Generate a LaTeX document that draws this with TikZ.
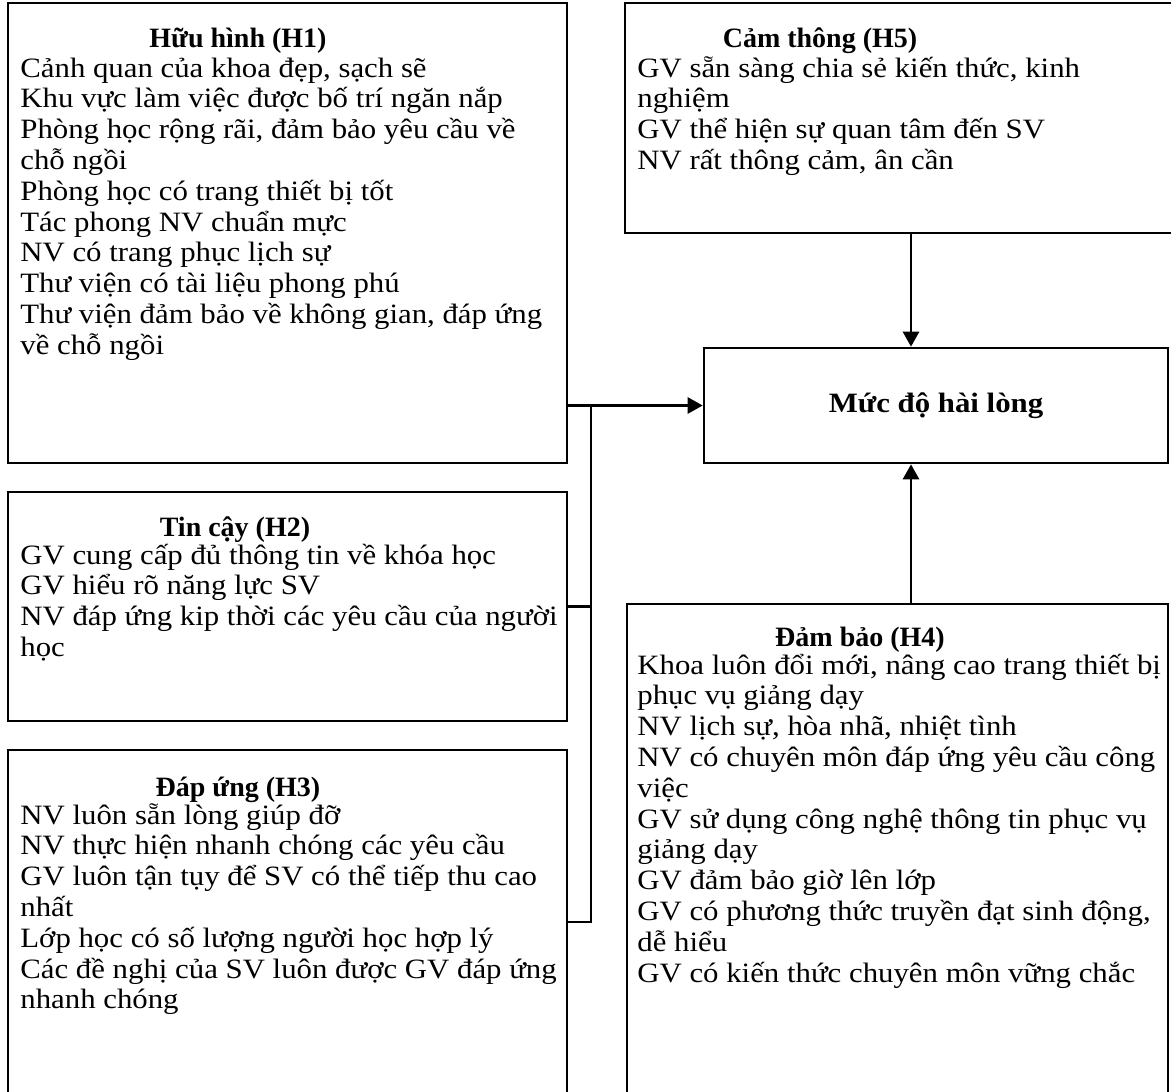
\documentclass[tikz,border=0pt]{standalone}
\usepackage{fontspec}
\setmainfont[FakeStretch=1.1]{Liberation Serif}
\newfontfamily\headfont{Liberation Serif}
\usetikzlibrary{arrows.meta, positioning, calc}

\begin{document}
\begin{tikzpicture}[
    x=0.5pt, y=-0.5pt,
    font=\fontsize{14pt}{15.4pt}\selectfont,
    box/.style={rectangle, draw, line width=1.3pt, inner sep=0pt},
    title/.style={anchor=base, inner sep=0pt, font=\fontsize{14pt}{15.4pt}\selectfont\headfont\bfseries},
    % base anchor of a multi-line node sits on its last line
    items/.style={anchor=base west, align=left, inner sep=0pt},
    arrow/.style={line width=1.3pt, -{Triangle[length=7.5pt, width=8pt]}},
    link/.style={line width=1.3pt}
  ]
  \useasboundingbox (0,0) rectangle (1171,1091);
  \clip (0,0) rectangle (1171,1091);

  % factor boxes
  \node[box, minimum width=279.5pt, minimum height=230pt] (h1) at (287.5,233) {};
  \node[box, minimum width=279.5pt, minimum height=114.5pt] (h2) at (287.5,606.5) {};
  \node[box, minimum width=279.5pt, minimum height=172pt] (h3) at (287.5,922) {};
  \node[box, minimum width=286pt, minimum height=115pt] (h5) at (911,118) {};
  \node[box, minimum width=270.5pt, minimum height=253pt] (h4) at (897.5,857) {};
  \node[box, minimum width=232pt, minimum height=57.5pt, font=\fontsize{14pt}{15.4pt}\selectfont\bfseries] (tgt) at (936,405.5) {Mức độ hài lòng};

  % titles
  \node[title] (h1t) at (238,48) {Hữu hình (H1)};
  \node[title] (h2t) at (235,536) {Tin cậy (H2)};
  \node[title] (h3t) at (238,796) {Đáp ứng (H3)};
  \node[title] (h4t) at (860,646) {Đảm bảo (H4)};
  \node[title] (h5t) at (820,48) {Cảm thông (H5)};

  % items (first baseline + (lines-1) x 30.8)
  \node[items] (h1i) at (20,{77+9*30.8}) {Cảnh quan của khoa đẹp, sạch sẽ\\
    Khu vực làm việc được bố trí ngăn nắp\\
    Phòng học rộng rãi, đảm bảo yêu cầu về\\
    chỗ ngồi\\
    Phòng học có trang thiết bị tốt\\
    Tác phong NV chuẩn mực\\
    NV có trang phục lịch sự\\
    Thư viện có tài liệu phong phú\\
    Thư viện đảm bảo về không gian, đáp ứng\\
    về chỗ ngồi};
  \node[items] (h2i) at (20,{564+3*30.8}) {GV cung cấp đủ thông tin về khóa học\\
    GV hiểu rõ năng lực SV\\
    NV đáp ứng kip thời các yêu cầu của người\\
    học};
  \node[items] (h3i) at (20,{824+6*30.8}) {NV luôn sẵn lòng giúp đỡ\\
    NV thực hiện nhanh chóng các yêu cầu\\
    GV luôn tận tụy để SV có thể tiếp thu cao\\
    nhất\\
    Lớp học có số lượng người học hợp lý\\
    Các đề nghị của SV luôn được GV đáp ứng\\
    nhanh chóng};
  \node[items] (h4i) at (637,{674+10*30.8}) {Khoa luôn đổi mới, nâng cao trang thiết bị\\
    phục vụ giảng dạy\\
    NV lịch sự, hòa nhã, nhiệt tình\\
    NV có chuyên môn đáp ứng yêu cầu công\\
    việc\\
    GV sử dụng công nghệ thông tin phục vụ\\
    giảng dạy\\
    GV đảm bảo giờ lên lớp\\
    GV có phương thức truyền đạt sinh động,\\
    dễ hiểu\\
    GV có kiến thức chuyên môn vững chắc};
  \node[items] (h5i) at (637,{77+3*30.8}) {GV sẵn sàng chia sẻ kiến thức, kinh\\
    nghiệm\\
    GV thể hiện sự quan tâm đến SV\\
    NV rất thông cảm, ân cần};

  % connectors
  \coordinate (bus) at (591,405.5);
  \draw[arrow] (h1.east |- tgt.west) -- (tgt.west);
  \draw[link] (bus) -- (bus |- h3.east) -- (h3.east);
  \draw[link] (h2.east) -- (h2.east -| bus);
  \draw[arrow] (h5.south) -- (h5.south |- tgt.north);
  \draw[arrow] (h4.north -| h5.south) -- (tgt.south -| h5.south);
\end{tikzpicture}
\end{document}
